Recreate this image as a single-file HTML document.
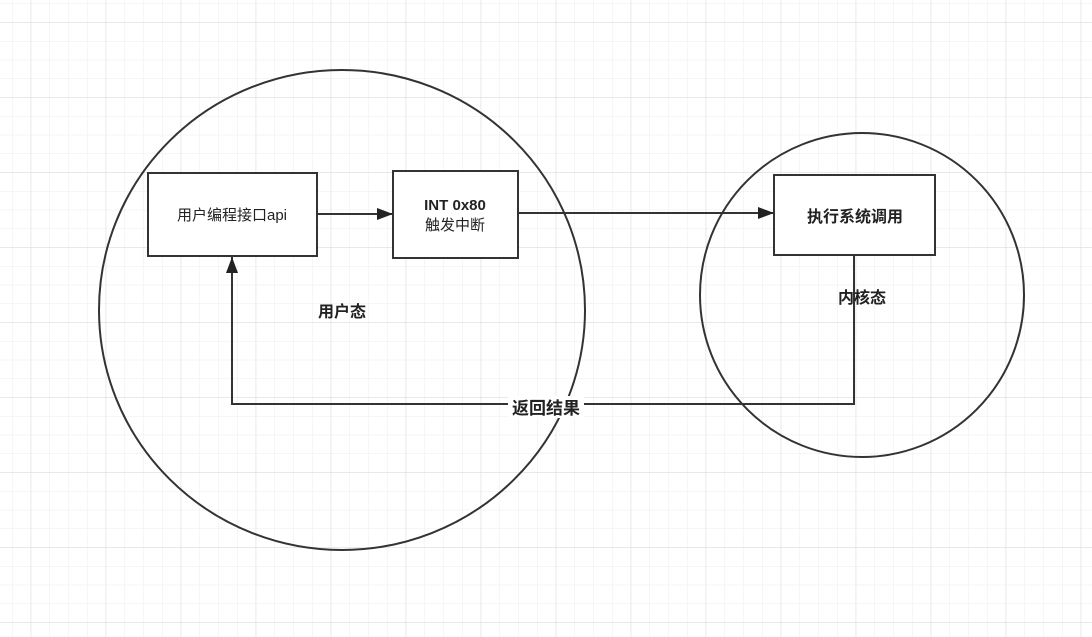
<!DOCTYPE html>
<html><head><meta charset="utf-8"><style>
body{margin:0;background:#fff}
svg{display:block}
text{font-family:"Liberation Sans","Noto Sans CJK SC",sans-serif;fill:#222}
</style></head><body>
<svg width="1092" height="637" viewBox="0 0 1092 637">
<defs>
<pattern id="g" x="12" y="3.5" width="18.75" height="18.75" patternUnits="userSpaceOnUse">
<path d="M0 0H18.75M0 0V18.75" stroke="#ececec" stroke-width="1" fill="none"/>
</pattern>
<pattern id="G" x="30.7" y="22.2" width="75" height="75" patternUnits="userSpaceOnUse">
<path d="M0 0H75M0 0V75" stroke="#dcdcdc" stroke-width="1" fill="none"/>
</pattern>
<marker id="a" markerWidth="16" markerHeight="14" refX="16" refY="7" orient="auto" markerUnits="userSpaceOnUse">
<path d="M0 1L16 7L0 13Z" fill="#222"/>
</marker>
</defs>
<rect width="1092" height="637" fill="url(#g)"/>
<rect width="1092" height="637" fill="url(#G)"/>
<g fill="none" stroke="#333" stroke-width="2">
<ellipse cx="342" cy="310" rx="243" ry="240"/>
<ellipse cx="862" cy="295" rx="162" ry="162"/>
<rect x="148" y="173" width="169" height="83" fill="#fff"/>
<rect x="393" y="171" width="125" height="87" fill="#fff"/>
<rect x="774" y="175" width="161" height="80" fill="#fff"/>
<path d="M317 214H393" marker-end="url(#a)"/>
<path d="M518 213H774" marker-end="url(#a)"/>
<path d="M854 255V404H232V257" marker-end="url(#a)"/>
</g>
<rect x="508" y="396" width="76" height="22" fill="#fff"/>
<text x="232" y="220" font-size="15" text-anchor="middle">用户编程接口api</text>
<text x="455" y="210" font-size="15" font-weight="bold" text-anchor="middle">INT 0x80</text>
<text x="455" y="230" font-size="15" text-anchor="middle">触发中断</text>
<text x="855" y="222" font-size="16" font-weight="bold" text-anchor="middle">执行系统调用</text>
<text x="342" y="317" font-size="16" font-weight="bold" text-anchor="middle">用户态</text>
<text x="862" y="303" font-size="16" font-weight="bold" text-anchor="middle">内核态</text>
<text x="546" y="414" font-size="17" font-weight="bold" text-anchor="middle">返回结果</text>
</svg>
</body></html>
